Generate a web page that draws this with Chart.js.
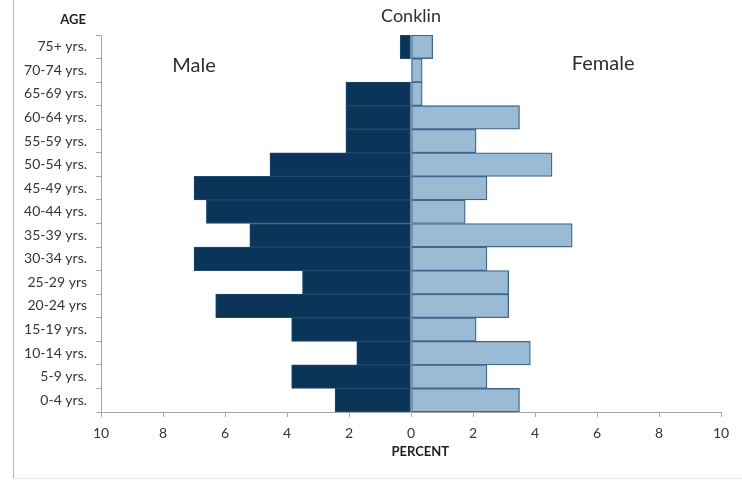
<!DOCTYPE html>
<html>
<head>
<meta charset="utf-8">
<script src="https://cdn.jsdelivr.net/npm/chart.js@4.4.0/dist/chart.umd.min.js"></script>
<style>
  html, body { margin: 0; padding: 0; background: #fff; }
  #wrap { width: 742px; height: 481px; position: relative; }
</style>
</head>
<body>
<div id="wrap"><canvas id="pyramid"></canvas></div>
<script>
// age groups, top to bottom
const ageGroups = ['75+ yrs.', '70-74 yrs.', '65-69 yrs.', '60-64 yrs.', '55-59 yrs.', '50-54 yrs.',
  '45-49 yrs.', '40-44 yrs.', '35-39 yrs.', '30-34 yrs.', '25-29 yrs', '20-24 yrs',
  '15-19 yrs.', '10-14 yrs.', '5-9 yrs.', '0-4 yrs.'];
// percent of population
const malePct   = [0.35, 0, 2.1, 2.1, 2.1, 4.55, 7.0, 6.6, 5.2, 7.0, 3.5, 6.3, 3.85, 1.75, 3.85, 2.45];
const femalePct = [0.7, 0.36, 0.36, 3.5, 2.1, 4.55, 2.45, 1.75, 5.2, 2.45, 3.15, 3.15, 2.1, 3.85, 2.45, 3.5];
const percentTicks = [-10, -8, -6, -4, -2, 0, 2, 4, 6, 8, 10];

const fontFam = 'Lato, "Open Sans", sans-serif';
const axisGray = '#a6a6a6';
const textCol = '#363636';

// title, side labels and frame
const extras = {
  id: 'extras',
  beforeDraw(chart) {
    const c = chart.ctx;
    c.save();
    c.strokeStyle = '#b5b5b5';
    c.lineWidth = 1;
    c.beginPath();
    c.moveTo(13.5, 0);
    c.lineTo(13.5, 478.5);
    c.stroke();
    c.strokeStyle = '#e6e6e6';
    c.beginPath();
    c.moveTo(13.5, 478.5);
    c.lineTo(742, 478.5);
    c.stroke();
    c.restore();
  },
  afterDraw(chart) {
    const c = chart.ctx;
    const xs = chart.scales.x;
    const ys = chart.scales.y;
    c.save();
    c.textBaseline = 'middle';
    c.fillStyle = '#2e2e2e';
    c.textAlign = 'center';
    c.font = '18px ' + fontFam;
    c.fillText('Conklin', xs.getPixelForValue(0), 16);
    c.font = '20px ' + fontFam;
    c.fillText('Male', xs.getPixelForValue(-7), ys.getPixelForValue(1) - 5);
    c.fillText('Female', xs.getPixelForValue(6.2), ys.getPixelForValue(1) - 7);
    c.font = 'bold 13px ' + fontFam;
    c.fillStyle = '#1e1e1e';
    c.textAlign = 'right';
    c.fillText('AGE', 86, 20);
    c.textAlign = 'center';
    c.fillText('PERCENT', xs.getPixelForValue(0.3), 452);
    c.restore();
  }
};

new Chart(document.getElementById('pyramid'), {
  type: 'bar',
  data: {
    labels: ageGroups,
    datasets: [
      {
        label: 'Male',
        data: malePct.map(v => -v),
        backgroundColor: '#0b3459',
        borderColor: '#1e4a72',
        borderWidth: 1,
        borderSkipped: false
      },
      {
        label: 'Female',
        data: femalePct,
        backgroundColor: '#9bbad4',
        borderColor: '#3f6890',
        borderWidth: 1.3,
        borderSkipped: false
      }
    ]
  },
  options: {
    indexAxis: 'y',
    responsive: true,
    maintainAspectRatio: false,
    animation: false,
    layout: { padding: { top: 35, right: 21, bottom: 0, left: 0 } },
    datasets: { bar: { categoryPercentage: 1, barPercentage: 1 } },
    plugins: {
      legend: { display: false },
      tooltip: { enabled: false }
    },
    scales: {
      x: {
        stacked: true,
        min: -10,
        max: 10,
        afterBuildTicks: (s) => { s.ticks = percentTicks.map(v => ({ value: v })); },
        afterFit: (s) => { s.height = 69; },
        border: { color: axisGray },
        grid: { drawOnChartArea: false, color: axisGray, tickLength: 5 },
        ticks: {
          padding: 8,
          color: textCol,
          font: { family: fontFam, size: 14 },
          callback: (v) => Math.abs(v)
        }
      },
      y: {
        stacked: true,
        afterFit: (s) => { s.width = 101; },
        border: { color: axisGray },
        grid: { drawOnChartArea: false, color: axisGray, tickLength: 5, offset: true },
        ticks: {
          padding: 9,
          color: textCol,
          font: { family: fontFam, size: 14 }
        }
      }
    }
  },
  plugins: [extras]
});
</script>
</body>
</html>
